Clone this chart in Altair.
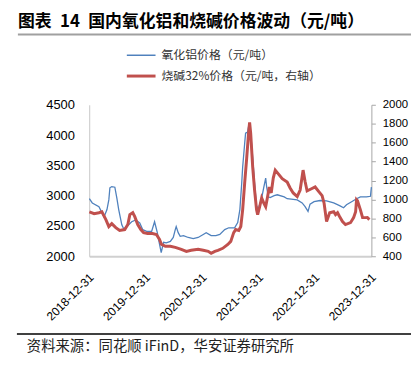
import altair as alt
import pandas as pd

# ---- data ----
alumina_dates = [
    "2019-01-01", "2019-01-20", "2019-03-04", "2019-04-06", "2019-04-25", "2019-05-07",
    "2019-05-14", "2019-05-26", "2019-06-15", "2019-06-28", "2019-07-10", "2019-07-30",
    "2019-08-12", "2019-09-01", "2019-10-02", "2019-10-28", "2019-11-23", "2019-12-12",
    "2020-01-07", "2020-02-08", "2020-02-27", "2020-03-15", "2020-03-30", "2020-04-10",
    "2020-04-25", "2020-05-13", "2020-06-08", "2020-06-27", "2020-07-10", "2020-07-16",
    "2020-07-29", "2020-08-11", "2020-09-01", "2020-10-02", "2020-11-03", "2020-12-05",
    "2021-01-07", "2021-01-26", "2021-02-27", "2021-03-30", "2021-04-24", "2021-05-26",
    "2021-06-21", "2021-07-16", "2021-07-29", "2021-08-18", "2021-09-01", "2021-09-13",
    "2021-09-19", "2021-10-02", "2021-10-08", "2021-10-21", "2021-10-27", "2021-11-10",
    "2021-11-23", "2021-12-05", "2021-12-18", "2022-01-01", "2022-01-20", "2022-02-02",
    "2022-02-15", "2022-02-21", "2022-03-04", "2022-03-16", "2022-04-11", "2022-05-01",
    "2022-06-15", "2022-07-04", "2022-09-07", "2022-10-09", "2022-10-28", "2022-11-16",
    "2022-11-29", "2022-12-25", "2023-02-02", "2023-03-16", "2023-05-01", "2023-06-08",
    "2023-07-04", "2023-07-23", "2023-08-25", "2023-09-26", "2023-10-21", "2023-11-29",
    "2023-12-25", "2023-12-31",
]
alumina_vals = [
    2950, 2880, 2817, 2650, 2770, 2930,
    3130, 3150, 3140, 2960, 2770, 2520,
    2450, 2490, 2570, 2600, 2550, 2440,
    2410, 2410, 2570, 2400, 2200, 2060,
    2230, 2220, 2245, 2310, 2440, 2490,
    2390, 2330, 2340, 2310, 2290, 2310,
    2360, 2390, 2340, 2340, 2360, 2440,
    2470, 2470, 2470, 2555, 2770, 3210,
    3470, 3860, 4030, 4050, 4140, 4030,
    3630, 3210, 2820, 2800, 2960, 3130,
    3290, 3150, 2980, 2970, 3000, 3015,
    2980, 2950, 2930, 2880, 2820, 2740,
    2860, 2900, 2920, 2915, 2880, 2835,
    2800, 2850, 2900, 2950, 2980, 2980,
    2990, 3140,
]

soda_dates = [
    "2019-01-01", "2019-02-01", "2019-03-04", "2019-03-23", "2019-04-18", "2019-05-07",
    "2019-05-26", "2019-06-21", "2019-07-16", "2019-08-18", "2019-09-07", "2019-09-20",
    "2019-10-09", "2019-10-22", "2019-11-10", "2019-11-30", "2019-12-18", "2020-01-13",
    "2020-02-14", "2020-03-10", "2020-03-30", "2020-04-12", "2020-05-07", "2020-06-08",
    "2020-07-10", "2020-08-18", "2020-09-20", "2020-10-21", "2020-12-05", "2021-01-07",
    "2021-02-08", "2021-02-27", "2021-03-23", "2021-04-12", "2021-05-13", "2021-06-15",
    "2021-07-04", "2021-07-23", "2021-08-05", "2021-08-25", "2021-09-07", "2021-09-19",
    "2021-10-02", "2021-10-15", "2021-10-27", "2021-11-03", "2021-11-10", "2021-11-23",
    "2021-12-05", "2021-12-18", "2021-12-25", "2022-01-07", "2022-01-20", "2022-02-02",
    "2022-02-15", "2022-02-27", "2022-03-10", "2022-03-23", "2022-04-05", "2022-04-18",
    "2022-05-13", "2022-06-02", "2022-07-04", "2022-07-23", "2022-08-12", "2022-09-07",
    "2022-09-26", "2022-10-15", "2022-10-28", "2022-11-10", "2022-12-05", "2023-01-01",
    "2023-01-26", "2023-02-15", "2023-02-28", "2023-03-16", "2023-04-05", "2023-05-01",
    "2023-05-13", "2023-05-26", "2023-06-08", "2023-06-27", "2023-07-16", "2023-08-18",
    "2023-09-07", "2023-09-20", "2023-09-26", "2023-10-02", "2023-10-21", "2023-11-04",
    "2023-11-23", "2023-12-05", "2023-12-18",
]
soda_vals = [
    870, 850, 860, 870, 787, 714,
    745, 703, 672, 682, 735, 840,
    860, 818, 735, 682, 650, 640,
    640, 630, 578, 525, 505, 505,
    494, 473, 452, 463, 473, 463,
    452, 431, 452, 463, 484, 525,
    557, 650, 682, 672, 714, 890,
    1173, 1435, 1697, 1815, 1697, 1341,
    1100, 890, 840, 923, 1017, 965,
    923, 1027, 1132, 1069, 1226, 1310,
    1260, 1220, 1184, 1122, 1069, 1030,
    1100, 1310, 1190, 1090, 1110, 1132,
    1080, 1040, 960, 766, 860, 870,
    840, 860, 820, 766, 735, 755,
    808, 870, 996, 985, 890, 808,
    808, 810, 787,
]

left_ticks = [2000, 2500, 3000, 3500, 4000, 4500]
right_ticks = [400, 600, 800, 1000, 1200, 1400, 1600, 1800, 2000]
tick_years = [2018, 2019, 2020, 2021, 2022, 2023]

title_text = "图表\u200214\u2002国内氧化铝和烧碱价格波动（元/吨）"
legend_labels = ["氧化铝价格（元/吨）", "烧碱32%价格（元/吨，右轴）"]
source_text = "资料来源：同花顺 iFinD，华安证券研究所"

BLUE = "#4f81bd"
RED = "#c0504d"

alumina = pd.DataFrame({"date": pd.to_datetime(alumina_dates), "v": alumina_vals})
soda = pd.DataFrame({"date": pd.to_datetime(soda_dates), "v": soda_vals})
one = pd.DataFrame({"a": [0]})

W, H = 285, 153

xscale = alt.Scale(domain=[alt.DateTime(year=2018, month=12, date=31),
                           alt.DateTime(year=2023, month=12, date=31)])
xaxis = alt.Axis(values=[alt.DateTime(year=y, month=12, date=31) for y in tick_years],
                 format="%Y-%m-%d", labelAngle=-45, labelAlign="right",
                 labelBaseline="middle", labelPadding=19, labelOffset=2, ticks=False,
                 domainColor="#d0d0d0", domainWidth=2, grid=False,
                 labelFont="Liberation Sans", labelFontSize=12, labelColor="#000",
                 title=None, labelOverlap=False, labelBound=False, labelFlush=False)

blue_line = alt.Chart(alumina).mark_line(color=BLUE, strokeWidth=1.3).encode(
    x=alt.X("date:T", scale=xscale, axis=xaxis),
    y=alt.Y("v:Q", scale=alt.Scale(domain=[2000, 4500], nice=False, zero=False),
            axis=alt.Axis(values=left_ticks, orient="left", ticks=False, grid=False,
                          format="d",
                          domainColor="#c8c8c8", labelFont="Liberation Sans",
                          labelFontSize=13, labelColor="#000", labelPadding=15,
                          title=None)),
)

red_line = alt.Chart(soda).mark_line(color=RED, strokeWidth=3).encode(
    x=alt.X("date:T", scale=xscale, axis=xaxis),
    y=alt.Y("v:Q", scale=alt.Scale(domain=[400, 2000], nice=False, zero=False),
            axis=alt.Axis(values=right_ticks, orient="right", ticks=True, tickSize=4,
                          format="d",
                          tickColor="#a6a6a6", grid=False, domainColor="#a6a6a6",
                          labelFont="Liberation Sans", labelFontSize=11.5,
                          labelColor="#000", labelPadding=7, title=None)),
)

base = alt.Chart(one)

title = base.mark_text(align="left", baseline="alphabetic", font="Noto Sans CJK SC",
                       fontWeight="bold", fontSize=17, color="#000").encode(
    x=alt.value(-72), y=alt.value(-79), text=alt.value(title_text))
title_rule = base.mark_rule(color="#a0a0a0", strokeWidth=2).encode(
    x=alt.value(-72), x2=alt.value(335), y=alt.value(-71))

leg1_line = base.mark_rule(color=BLUE, strokeWidth=1.5).encode(
    x=alt.value(38), x2=alt.value(67), y=alt.value(-50))
leg1_text = base.mark_text(align="left", baseline="middle", font="Noto Sans CJK SC",
                           fontSize=12, color="#333").encode(
    x=alt.value(73), y=alt.value(-50), text=alt.value(legend_labels[0]))
leg2_line = base.mark_rule(color=RED, strokeWidth=3).encode(
    x=alt.value(38), x2=alt.value(67), y=alt.value(-29))
leg2_text = base.mark_text(align="left", baseline="middle", font="Noto Sans CJK SC",
                           fontSize=12, color="#333").encode(
    x=alt.value(73), y=alt.value(-29), text=alt.value(legend_labels[1]))

foot_rule = base.mark_rule(color="#000", strokeWidth=1.5).encode(
    x=alt.value(-73), x2=alt.value(335), y=alt.value(231.5))
foot_text = base.mark_text(align="left", baseline="middle", font="Noto Sans CJK SC",
                           fontSize=14.5, color="#222").encode(
    x=alt.value(-63), y=alt.value(245), text=alt.value(source_text))

chart = alt.layer(
    blue_line, red_line,
    title, title_rule, leg1_line, leg1_text, leg2_line, leg2_text, foot_rule, foot_text,
).resolve_scale(y="independent").properties(
    width=W, height=H,
    autosize=alt.AutoSizeParams(type="none"),
    padding={"left": 82, "top": 96, "right": 40, "bottom": 100},
).configure_view(stroke=None)

chart.save("out.html", embed_options={"renderer": "svg", "actions": False})
